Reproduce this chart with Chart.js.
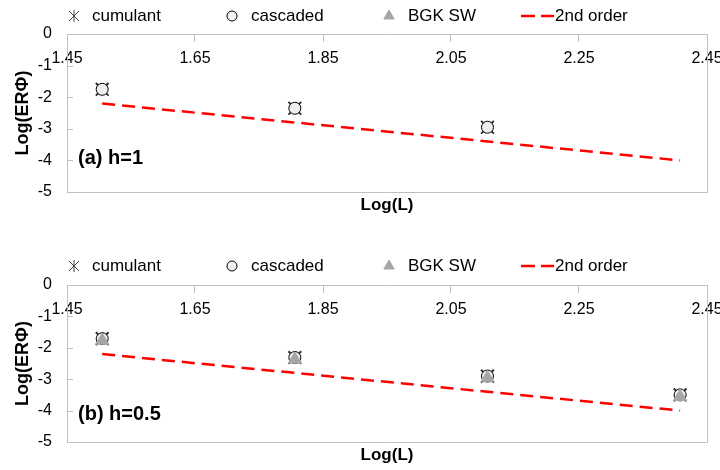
<!DOCTYPE html>
<html>
<head>
<meta charset="utf-8">
<script src="https://cdn.jsdelivr.net/npm/chart.js@4.4.1/dist/chart.umd.min.js"></script>
<style>
  body { margin: 0; background: #fff; }
  .box { position: absolute; left: 0; width: 720px; height: 235px; }
</style>
</head>
<body>
<div class="box" style="top:0"><canvas id="chartA"></canvas></div>
<div class="box" style="top:235px"><canvas id="chartB"></canvas></div>
<script>
// (a) h=1
const logL_a = [1.505, 1.806, 2.107];
const cumulant_a = [-1.75, -2.35, -2.95];
const cascaded_a = [-1.75, -2.35, -2.95];
const bgk_a = [];

// (b) h=0.5
const logL_b = [1.505, 1.806, 2.107, 2.408];
const cumulant_b = [-1.71, -2.31, -2.90, -3.50];
const cascaded_b = [-1.71, -2.31, -2.90, -3.50];
const bgk_b = [-1.77, -2.37, -2.96, -3.56];

// 2nd order reference line
const logL_ref = [1.505, 1.806, 2.107, 2.408];
const order2 = [-2.2, -2.8, -3.4, -4.0];

const xTicks = [1.45, 2.45, 0.2];   // min, max, step
const yTicks = [-5, 0, 1];

const FONT = '"Liberation Sans", Arial, sans-serif';
const GRAY = '#bfbfbf';

const pts = (xs, ys) => ys.map((y, i) => ({ x: xs[i], y: y }));

const decor = {
  id: 'decor',
  afterDraw(chart, args, opts) {
    const ctx = chart.ctx;
    const a = chart.chartArea;
    const H = Chart.helpers;
    ctx.save();
    // right + bottom frame
    ctx.strokeStyle = GRAY;
    ctx.lineWidth = 1;
    ctx.beginPath();
    ctx.moveTo(Math.round(a.right) + 0.5, a.top);
    ctx.lineTo(Math.round(a.right) + 0.5, Math.round(a.bottom) + 0.5);
    ctx.lineTo(a.left, Math.round(a.bottom) + 0.5);
    ctx.stroke();

    // inward y tick marks
    const ys = chart.scales.y;
    ctx.beginPath();
    ys.ticks.forEach(t => {
      const py = Math.round(ys.getPixelForValue(t.value)) + 0.5;
      ctx.moveTo(a.left, py); ctx.lineTo(a.left + 6, py);
    });
    ctx.stroke();

    // legend
    const ly = a.top - opts.legendGap;
    ctx.font = '17px ' + FONT;
    ctx.textBaseline = 'middle';
    ctx.textAlign = 'left';

    ctx.strokeStyle = '#404040'; ctx.fillStyle = '#404040';
    H.drawPoint(ctx, { pointStyle: 'crossRot', radius: 7, borderWidth: 3, rotation: 0 }, 74, ly);
    H.drawPoint(ctx, { pointStyle: 'line', radius: 6, borderWidth: 2.5, rotation: 90 }, 74, ly);
    ctx.fillStyle = '#000';
    ctx.fillText('cumulant', 92, ly);

    ctx.strokeStyle = '#000'; ctx.fillStyle = '#f2f2f2';
    H.drawPoint(ctx, { pointStyle: 'circle', radius: 5, borderWidth: 1, rotation: 0 }, 232, ly);
    ctx.fillStyle = '#000';
    ctx.fillText('cascaded', 251, ly);

    ctx.strokeStyle = '#a6a6a6'; ctx.fillStyle = '#a6a6a6';
    H.drawPoint(ctx, { pointStyle: 'triangle', radius: 6, borderWidth: 1, rotation: 0 }, 389, ly);
    ctx.fillStyle = '#000';
    ctx.fillText('BGK SW', 408, ly);

    ctx.strokeStyle = '#ff0000'; ctx.lineWidth = 2.5;
    ctx.beginPath();
    ctx.moveTo(521, ly); ctx.lineTo(535, ly);
    ctx.moveTo(541, ly); ctx.lineTo(554, ly);
    ctx.stroke();
    ctx.fillStyle = '#000';
    ctx.fillText('2nd order', 555, ly);

    // x axis title
    ctx.font = 'bold 17px ' + FONT;
    ctx.textAlign = 'center';
    ctx.fillText('Log(L)', (a.left + a.right) / 2, a.bottom + 13);

    // panel note
    ctx.font = 'bold 20px ' + FONT;
    ctx.textAlign = 'left';
    ctx.fillText(opts.note, a.left + 11, chart.scales.y.getPixelForValue(opts.noteY));
    ctx.restore();
  }
};

function makeChart(id, xs, cum, cas, bgk, padTop, padBottom, legendGap, note, noteY) {
  return new Chart(document.getElementById(id), {
    type: 'scatter',
    data: {
      datasets: [
        {
          label: 'cumulant', data: pts(xs, cum), order: 3,
          pointStyle: 'crossRot', pointRadius: 9, pointBorderWidth: 2,
          borderColor: '#303030', backgroundColor: '#303030'
        },
        {
          label: 'cascaded', data: pts(xs, cas), order: 2,
          pointStyle: 'circle', pointRadius: 6, pointBorderWidth: 1,
          borderColor: '#000', backgroundColor: '#eeeeee'
        },
        {
          label: 'BGK SW', data: pts(xs, bgk), order: 1,
          pointStyle: 'triangle', pointRadius: 7.5, pointBorderWidth: 1,
          borderColor: '#a6a6a6', backgroundColor: '#a6a6a6'
        },
        {
          label: '2nd order', data: pts(logL_ref, order2), order: 4,
          showLine: true, pointRadius: 0, borderColor: '#ff0000',
          borderWidth: 2.5, borderDash: [13, 7]
        }
      ]
    },
    options: {
      responsive: true,
      maintainAspectRatio: false,
      animation: false,
      layout: { padding: { left: 0, right: 13, top: padTop, bottom: padBottom } },
      plugins: {
        legend: { display: false },
        tooltip: { enabled: false },
        decor: { legendGap: legendGap, note: note, noteY: noteY }
      },
      scales: {
        x: {
          type: 'linear',
          position: { y: 0 },
          min: xTicks[0], max: xTicks[1],
          ticks: {
            stepSize: xTicks[2], padding: 8, color: '#000',
            font: { family: FONT, size: 16 },
            callback: v => v.toFixed(2)
          },
          grid: { drawOnChartArea: false, tickLength: 7, color: GRAY },
          border: { color: GRAY },
          afterFit: s => { s.paddingLeft = 0; s.paddingRight = 0; }
        },
        y: {
          min: yTicks[0], max: yTicks[1],
          ticks: {
            stepSize: yTicks[2], padding: 15, color: '#000',
            font: { family: FONT, size: 16 },
            callback: v => String(v)
          },
          grid: { drawOnChartArea: false, drawTicks: false, color: GRAY },
          border: { color: GRAY },
          title: {
            display: true, text: 'Log(ERΦ)', color: '#000',
            font: { family: FONT, size: 18, weight: 'bold' },
            padding: { top: 12, bottom: 0 }
          },
          afterFit: s => { s.width = 67; }
        }
      }
    },
    plugins: [decor]
  });
}

makeChart('chartA', logL_a, cumulant_a, cascaded_a, bgk_a, 34, 43, 18, '(a) h=1', -3.95);
makeChart('chartB', logL_b, cumulant_b, cascaded_b, bgk_b, 50, 28, 19, '(b) h=0.5', -4.12);
</script>
</body>
</html>
